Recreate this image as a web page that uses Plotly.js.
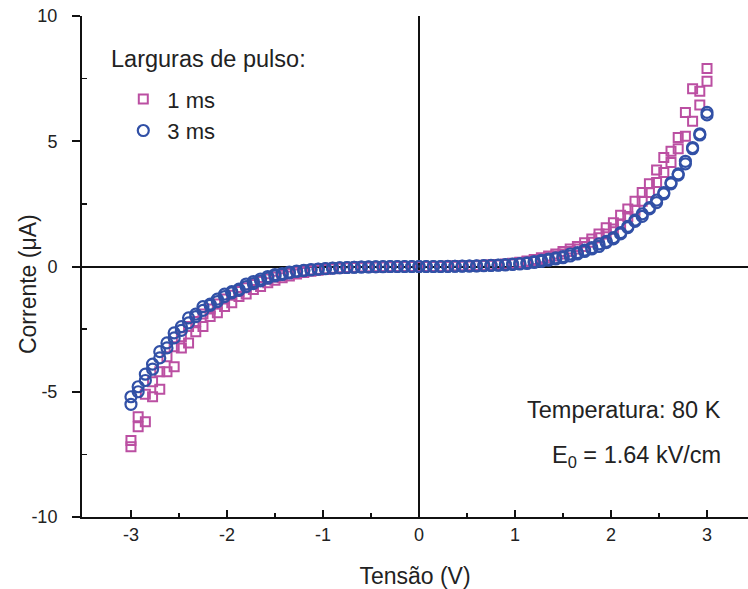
<!DOCTYPE html>
<html>
<head>
<meta charset="utf-8">
<script src="https://cdn.plot.ly/plotly-3.0.1.min.js"></script>
<style>html,body{margin:0;padding:0;background:#fff;}#chart{width:748px;height:589px;}</style>
</head>
<body>
<div id="chart"></div>
<script>
// Voltage grid (V)
const voltage = [-3.0,-2.925,-2.85,-2.775,-2.7,-2.625,-2.55,-2.475,-2.4,-2.325,-2.25,-2.175,-2.1,-2.025,-1.95,-1.875,-1.8,-1.725,-1.65,-1.575,-1.5,-1.425,-1.35,-1.275,-1.2,-1.125,-1.05,-0.975,-0.9,-0.825,-0.75,-0.675,-0.6,-0.525,-0.45,-0.375,-0.3,-0.225,-0.15,-0.075,0.0,0.075,0.15,0.225,0.3,0.375,0.45,0.525,0.6,0.675,0.75,0.825,0.9,0.975,1.05,1.125,1.2,1.275,1.35,1.425,1.5,1.575,1.65,1.725,1.8,1.875,1.95,2.025,2.1,2.175,2.25,2.325,2.4,2.475,2.55,2.625,2.7,2.775,2.85,2.925,3.0];

// 1 ms pulse width, two sweeps (µA)
const ms1SweepA = [-6.95,-6.0,-5.1,-4.6,-4.2,-3.6,-3.2,-2.8,-2.4,-2.2,-1.9,-1.7,-1.5,-1.3,-1.15,-1.0,-0.85,-0.72,-0.6,-0.5,-0.42,-0.35,-0.28,-0.22,-0.18,-0.14,-0.11,-0.09,-0.07,-0.05,-0.04,-0.03,-0.02,-0.02,-0.01,-0.01,0.0,0.0,0.0,0.0,0.0,0.0,0.0,0.0,0.01,0.02,0.02,0.03,0.04,0.05,0.06,0.08,0.1,0.13,0.17,0.22,0.28,0.35,0.42,0.5,0.6,0.7,0.8,0.95,1.1,1.3,1.55,1.75,2.05,2.3,2.6,2.95,3.3,3.85,4.35,4.6,5.15,6.15,7.1,7.0,7.9];
const ms1SweepB = [-7.2,-6.4,-6.2,-5.2,-4.9,-4.2,-4.0,-3.25,-3.05,-2.6,-2.4,-2.0,-1.85,-1.6,-1.45,-1.2,-1.1,-0.92,-0.8,-0.65,-0.55,-0.45,-0.38,-0.3,-0.24,-0.19,-0.15,-0.12,-0.09,-0.07,-0.05,-0.04,-0.03,-0.02,-0.02,-0.01,-0.01,0.0,0.0,0.0,0.0,0.0,0.0,0.0,0.01,0.01,0.02,0.02,0.03,0.04,0.05,0.06,0.08,0.1,0.14,0.18,0.22,0.28,0.35,0.42,0.5,0.6,0.7,0.8,0.97,1.15,1.3,1.5,1.7,2.0,2.25,2.6,2.95,3.35,3.75,4.15,4.7,5.2,5.8,6.45,7.4];

// 3 ms pulse width, two sweeps (µA)
const ms3SweepA = [-5.2,-4.8,-4.3,-3.9,-3.4,-3.05,-2.65,-2.4,-2.05,-1.9,-1.6,-1.5,-1.3,-1.1,-1.0,-0.9,-0.7,-0.6,-0.5,-0.4,-0.32,-0.28,-0.22,-0.18,-0.15,-0.12,-0.1,-0.08,-0.06,-0.05,-0.04,-0.03,-0.02,-0.01,-0.01,0.0,0.0,0.0,0.0,0.0,0.0,0.0,0.0,0.0,0.01,0.01,0.02,0.02,0.03,0.04,0.05,0.06,0.08,0.1,0.12,0.15,0.2,0.25,0.3,0.35,0.4,0.5,0.55,0.65,0.75,0.9,1.0,1.15,1.35,1.6,1.85,2.1,2.35,2.65,2.95,3.35,3.7,4.2,4.75,5.3,6.15];
const ms3SweepB = [-5.5,-5.0,-4.55,-4.1,-3.65,-3.25,-2.85,-2.55,-2.25,-2.0,-1.75,-1.55,-1.4,-1.2,-1.05,-0.95,-0.8,-0.68,-0.57,-0.47,-0.38,-0.32,-0.26,-0.2,-0.17,-0.14,-0.11,-0.09,-0.07,-0.05,-0.04,-0.03,-0.02,-0.02,-0.01,-0.01,0.0,0.0,0.0,0.0,0.0,0.0,0.0,0.0,0.0,0.01,0.01,0.02,0.02,0.03,0.04,0.05,0.06,0.08,0.1,0.12,0.16,0.2,0.25,0.3,0.35,0.42,0.5,0.6,0.7,0.8,0.95,1.1,1.3,1.55,1.8,2.0,2.3,2.55,2.9,3.3,3.65,4.1,4.7,5.25,6.05];

const seriesNames = ['1 ms', '3 ms'];
const legendTitle = 'Larguras de pulso:';
const noteTemp = 'Temperatura: 80 K';
const noteField = 'E<sub>0</sub> = 1.64 kV/cm';
const xTitle = 'Tensão (V)';
const yTitle = 'Corrente (μA)';

const FONT = 'Liberation Sans, Arial, Helvetica, sans-serif';
const TXT = '#222222';

const traces = [
  {
    type: 'scatter', mode: 'markers', name: seriesNames[0],
    x: voltage.concat(voltage), y: ms1SweepA.concat(ms1SweepB),
    marker: {symbol: 'square-open', size: 9, color: '#bb4fa2', line: {width: 2}}
  },
  {
    type: 'scatter', mode: 'markers', name: seriesNames[1],
    x: voltage.concat(voltage), y: ms3SweepA.concat(ms3SweepB),
    marker: {symbol: 'circle-open', size: 11, color: '#3150a6', line: {width: 2.2}}
  }
];

const layout = {
  width: 748, height: 589,
  margin: {l: 82, r: 0, t: 16, b: 72},
  paper_bgcolor: '#ffffff', plot_bgcolor: '#ffffff',
  font: {family: FONT, color: TXT, size: 18},
  showlegend: true,
  legend: {
    x: 0.056, y: 0.876, xanchor: 'left', yanchor: 'top',
    bgcolor: 'rgba(0,0,0,0)', borderwidth: 0,
    font: {family: FONT, size: 22, color: TXT},
    itemwidth: 38, tracegroupgap: 0
  },
  xaxis: {
    range: [-3.51, 3.427],
    showgrid: false,
    zeroline: true, zerolinecolor: '#111', zerolinewidth: 2,
    showline: true, linecolor: '#111', linewidth: 2,
    ticks: 'inside', ticklen: 7, tickwidth: 2, tickcolor: '#111',
    tickmode: 'array', tickvals: [-3,-2,-1,0,1,2,3], ticktext: ['-3','-2','-1','0','1','2','3'],
    minor: {ticks: 'inside', ticklen: 4, tickwidth: 1.5, tickcolor: '#111', tickvals: [-3.5,-2.5,-1.5,-0.5,0.5,1.5,2.5], showgrid: false},
    tickfont: {family: FONT, size: 18, color: TXT},
    ticklabelstandoff: 0,
    title: {text: xTitle, font: {family: FONT, size: 23, color: TXT}, standoff: 24}
  },
  yaxis: {
    range: [-10, 10],
    showgrid: false,
    zeroline: true, zerolinecolor: '#111', zerolinewidth: 2,
    showline: true, linecolor: '#111', linewidth: 2,
    ticks: 'outside', ticklen: 8, tickwidth: 2, tickcolor: '#111',
    tickmode: 'array', tickvals: [-10,-5,0,5,10], ticktext: ['-10','-5','0','5','10'],
    minor: {ticks: 'inside', ticklen: 5, tickwidth: 1.5, tickcolor: '#111', tickvals: [-7.5,-2.5,2.5,7.5], showgrid: false},
    tickfont: {family: FONT, size: 18, color: TXT},
    ticklabelstandoff: 11
  },
  annotations: [
    {xref: 'paper', yref: 'paper', x: -0.081, y: 0.465, xanchor: 'center', yanchor: 'middle', textangle: -90,
     text: yTitle, showarrow: false, font: {family: FONT, size: 23, color: TXT}},
    {xref: 'paper', yref: 'paper', x: 0.04, y: 0.915, xanchor: 'left', yanchor: 'middle',
     text: legendTitle, showarrow: false, font: {family: FONT, size: 23.5, color: TXT}},
    {xref: 'paper', yref: 'paper', x: 0.963, y: 0.213, xanchor: 'right', yanchor: 'middle',
     text: noteTemp, showarrow: false, font: {family: FONT, size: 23.5, color: TXT}},
    {xref: 'paper', yref: 'paper', x: 0.963, y: 0.12, xanchor: 'right', yanchor: 'middle',
     text: noteField, showarrow: false, font: {family: FONT, size: 23.5, color: TXT}}
  ]
};

Plotly.newPlot('chart', traces, layout, {displayModeBar: false, staticPlot: true});
</script>
</body>
</html>
